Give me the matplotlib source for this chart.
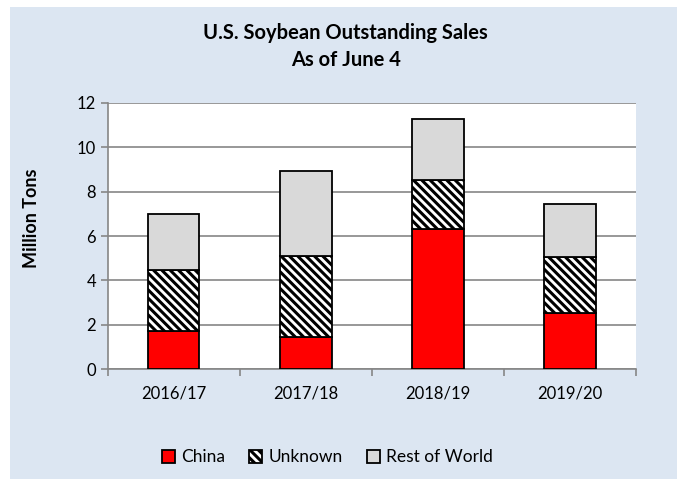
import matplotlib.pyplot as plt
import numpy as np

years = ['2016/17', '2017/18', '2018/19', '2019/20']
china = [1.73, 1.44, 6.31, 2.53]
unknown = [2.72, 3.66, 2.20, 2.52]
rest_of_world = [2.53, 3.85, 2.75, 2.41]

plt.rcParams['font.family'] = ['Lato', 'DejaVu Sans']
plt.rcParams['hatch.linewidth'] = 2.2

bg = '#dce6f2'
fig = plt.figure(figsize=(6.86, 4.79), dpi=100, facecolor='white')
# blue chart area with a thin white margin
fig.patches.append(plt.Rectangle((0.0146, 0.0), 0.973, 0.9854, transform=fig.transFigure,
                                 facecolor=bg, edgecolor='none', zorder=-10))

ax = fig.add_axes([0.157, 0.2296, 0.770, 0.5554])
ax.set_facecolor('white')

x = np.arange(len(years))
w = 0.39
ax.bar(x, china, w, color='#ff0000', edgecolor='black', linewidth=1.3, label='China', zorder=3)
ax.bar(x, unknown, w, bottom=china, color='white', edgecolor='black', hatch='\\\\\\\\',
       linewidth=1.3, label='Unknown', zorder=3)
bottom2 = [c + u for c, u in zip(china, unknown)]
ax.bar(x, rest_of_world, w, bottom=bottom2, color='#d9d9d9', edgecolor='black', linewidth=1.3,
       label='Rest of World', zorder=3)

ax.set_ylim(0, 12)
ax.set_yticks(range(0, 13, 2))
ax.set_xlim(-0.5, 3.5)
ax.set_xticks(x)
ax.set_xticklabels(years, fontsize=12)
ax.set_xticks(np.arange(-0.5, 4, 1), minor=True)
ax.tick_params(axis='x', which='major', length=0, pad=12)
ax.tick_params(axis='x', which='minor', length=5, color='#868686', width=1.2)
ax.tick_params(axis='y', length=5, color='#868686', width=1.2, labelsize=12)
ax.grid(axis='y', color='#868686', linewidth=1.2, zorder=0)
for s in ['top', 'right']:
    ax.spines[s].set_visible(False)
for s in ['left', 'bottom']:
    ax.spines[s].set_color('#868686')
    ax.spines[s].set_linewidth(1.2)

ax.set_ylabel('Million Tons', fontsize=13, fontweight='bold')
ax.yaxis.set_label_coords(-0.128, 0.568)
fig.text(0.504, 0.931, 'U.S. Soybean Outstanding Sales', ha='center', va='center',
         fontsize=14.5, fontweight='bold')
fig.text(0.504, 0.875, 'As of June 4', ha='center', va='center', fontsize=14.5, fontweight='bold')

leg = fig.legend(loc='center', bbox_to_anchor=(0.477, 0.045), ncol=3, frameon=False,
                 fontsize=12.5, handlelength=0.75, handleheight=0.75, handletextpad=0.35,
                 columnspacing=1.4)

fig.savefig('out.png', dpi=100, facecolor='white')
